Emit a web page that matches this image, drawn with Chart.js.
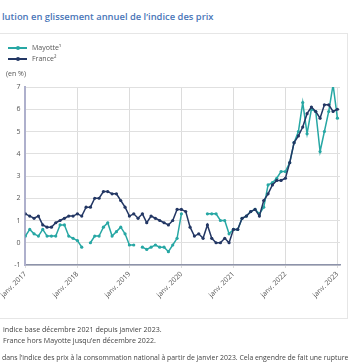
<!DOCTYPE html>
<html lang="fr">
<head>
<meta charset="utf-8">
<script src="https://cdn.jsdelivr.net/npm/chart.js@4"></script>
<style>
  html, body { margin:0; padding:0; width:356px; height:364px; overflow:hidden; background:#fff; font-family:"Open Sans", sans-serif; }
  .abs { position:absolute; white-space:nowrap; }
  #title { left:2px; top:10px; font-size:9.4px; line-height:13px; font-weight:600; color:#4a76b8; }
  #panel { left:-1px; top:33px; width:347px; height:284px; border:1px solid #e6e6e6; background:#fff; }
  #chart { position:absolute; left:0; top:0; }
  .leg { font-size:7px; color:#555; line-height:10px; }
  .legline { position:absolute; left:8px; width:19px; height:1.5px; }
  .legdot { position:absolute; left:15.5px; width:4px; height:4px; border-radius:50%; }
  .note { font-size:7.1px; color:#444; line-height:10px; }
</style>
</head>
<body>
<div id="title" class="abs">lution en glissement annuel de l’indice des prix</div>
<div id="panel" class="abs"></div>
<canvas id="chart" width="356" height="364"></canvas>
<div class="legline" style="top:47px;background:#27a7a4"></div>
<div class="legdot" style="top:45.8px;background:#27a7a4"></div>
<div class="abs leg" style="left:32px;top:43px">Mayotte¹</div>
<div class="legline" style="top:58px;background:#233764"></div>
<div class="legdot" style="top:56.8px;background:#233764"></div>
<div class="abs leg" style="left:32px;top:54px">France²</div>
<div class="abs leg" style="left:6px;top:69px">(en %)</div>
<div class="abs note" style="left:3px;top:324px">indice base décembre 2021 depuis janvier 2023.</div>
<div class="abs note" style="left:3px;top:335px">France hors Mayotte jusqu’en décembre 2022.</div>
<div class="abs note" style="left:2px;top:353px;font-size:6.9px">dans l’indice des prix à la consommation national à partir de janvier 2023. Cela engendre de fait une rupture</div>
<script>
// Monthly year-on-year change (%), January 2017 to January 2023
const startYear = 2017;
const mayotte = [
  0.3, 0.6, 0.4, 0.3, 0.6, 0.3, 0.3, 0.3, 0.8, 0.8, 0.3, 0.2,
  0.1, -0.2, null, 0.0, 0.3, 0.3, 0.7, 0.9, 0.3, 0.5, 0.7, 0.4,
  -0.1, -0.1, null, -0.2, -0.3, -0.2, -0.1, -0.2, -0.2, -0.4, -0.1, 0.2,
  1.3, null, null, null, null, null, 1.3, 1.3, 1.3, 1.0, 1.0, 0.4,
  0.6, 0.6, 1.1, 1.2, 1.4, 1.5, 1.3, 1.6, 2.6, 2.7, 2.9, 3.2,
  3.2, 3.6, 4.5, 5.0, 6.3, 4.9, 6.0, 5.9, 4.1, 5.0, 5.9, 7.1,
  5.6
];
const france = [
  1.3, 1.2, 1.1, 1.2, 0.8, 0.7, 0.7, 0.9, 1.0, 1.1, 1.2, 1.2,
  1.3, 1.2, 1.6, 1.6, 2.0, 2.0, 2.3, 2.3, 2.2, 2.2, 1.9, 1.6,
  1.2, 1.3, 1.1, 1.3, 0.9, 1.2, 1.1, 1.0, 0.9, 0.8, 1.0, 1.5,
  1.5, 1.4, 0.7, 0.3, 0.4, 0.2, 0.8, 0.2, 0.0, 0.0, 0.2, 0.0,
  0.6, 0.6, 1.1, 1.2, 1.4, 1.5, 1.2, 1.9, 2.2, 2.6, 2.8, 2.8,
  2.9, 3.6, 4.5, 4.8, 5.2, 5.8, 6.1, 5.9, 5.6, 6.2, 6.2, 5.9,
  6.0
];
const xTickLabels = ["janv. 2017", "janv. 2018", "janv. 2019", "janv. 2020", "janv. 2021", "janv. 2022", "janv. 2023"];
const yTicks = [-1, 0, 1, 2, 3, 4, 5, 6, 7];
const seriesNames = ["Mayotte¹", "France²"];

const teal = "#27a7a4", navy = "#233764";
const toPts = arr => arr.map((v, i) => ({ x: i, y: v }));
const xTickValues = xTickLabels.map((_, i) => i * 12);

new Chart(document.getElementById("chart"), {
  type: "line",
  data: {
    datasets: [
      { label: seriesNames[1], data: toPts(france), borderColor: navy, backgroundColor: navy,
        borderWidth: 1.5, pointRadius: 1.6, pointBorderWidth: 0, spanGaps: false, tension: 0 },
      { label: seriesNames[0], data: toPts(mayotte), borderColor: teal, backgroundColor: teal,
        borderWidth: 1.5, pointRadius: 1.6, pointBorderWidth: 0, spanGaps: false, tension: 0 }
    ]
  },
  options: {
    responsive: false,
    animation: false,
    devicePixelRatio: 1,
    layout: { autoPadding: false, padding: { top: 87, right: 16, bottom: 0, left: 0 } },
    plugins: { legend: { display: false }, tooltip: { enabled: false } },
    scales: {
      x: {
        type: "linear",
        min: 0,
        max: 72.6,
        afterBuildTicks: axis => { axis.ticks = xTickValues.map(v => ({ value: v })); },
        afterFit: axis => { axis.height = 99; },
        ticks: {
          autoSkip: false, minRotation: 45, maxRotation: 45, padding: 2,
          color: "#555", font: { family: "Open Sans", size: 7 },
          callback: v => xTickLabels[xTickValues.indexOf(v)] ?? ""
        },
        grid: { color: "#dcdcdc", lineWidth: 1, drawTicks: true, tickLength: 3 },
        border: { color: "#8d93aa", width: 1.5 }
      },
      y: {
        min: -1,
        max: 7,
        afterBuildTicks: axis => { axis.ticks = yTicks.map(v => ({ value: v })); },
        afterFit: axis => { axis.width = 22; },
        ticks: { padding: 5, color: "#555", font: { family: "Open Sans", size: 7 } },
        grid: { color: "#e0e0e0", lineWidth: 1, drawTicks: false },
        border: { color: "#aeb0cc", width: 2 }
      }
    }
  }
});
</script>
</body>
</html>
